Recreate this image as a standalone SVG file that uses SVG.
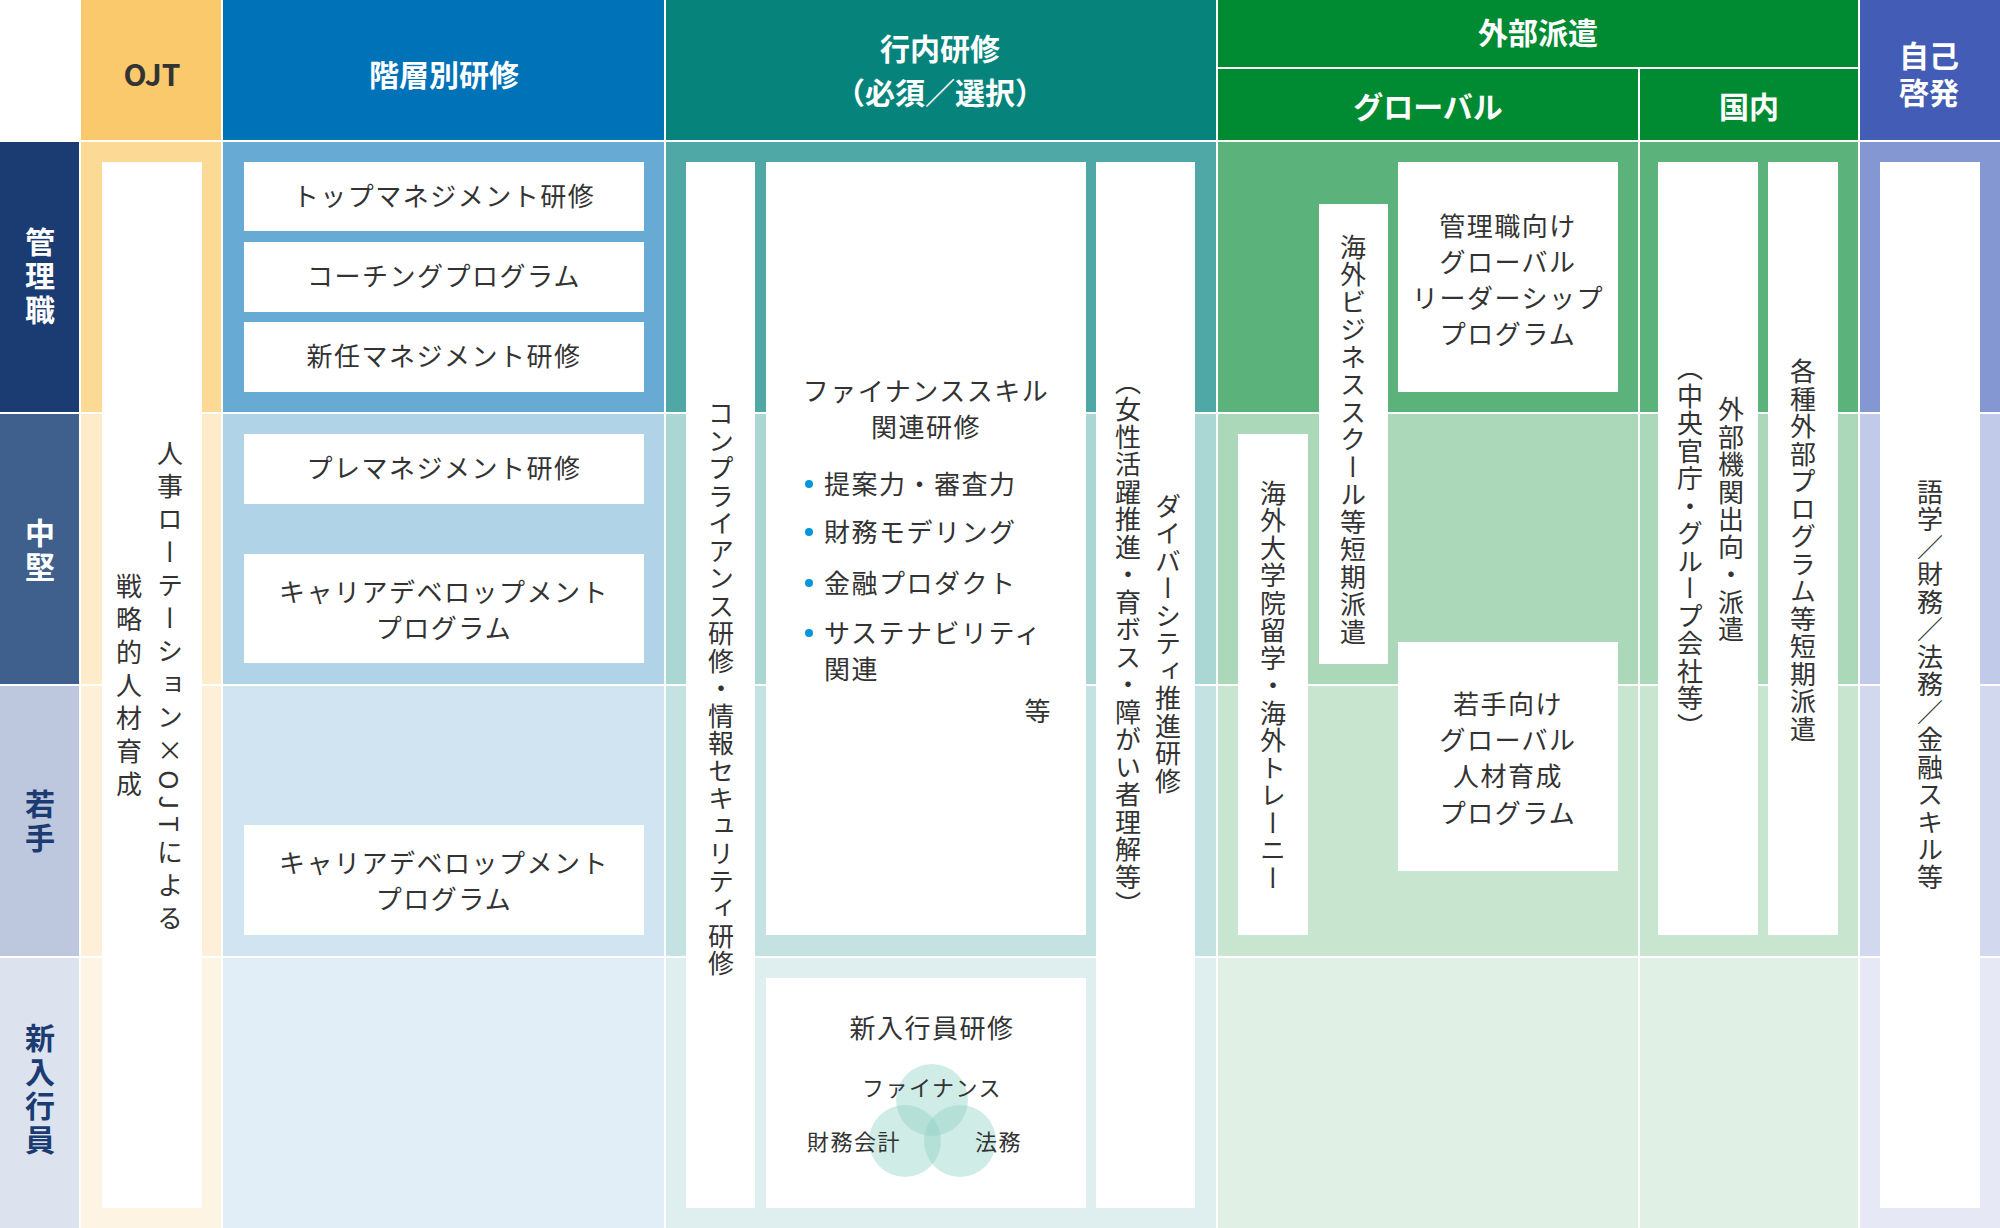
<svg xmlns="http://www.w3.org/2000/svg" width="2000" height="1228" viewBox="0 0 2000 1228">
<style>
text{font-family:"Noto Sans CJK JP","Noto Sans",sans-serif;}
.h{fill:#fff;font-weight:700;font-size:30px;text-anchor:middle;dominant-baseline:central;}
.b{fill:#333;font-size:26px;text-anchor:middle;letter-spacing:1.5px;}
.v{fill:#333;font-size:26px;writing-mode:vertical-rl;text-anchor:middle;letter-spacing:1.5px;}
.lv{font-weight:700;font-size:30px;writing-mode:vertical-rl;text-anchor:middle;letter-spacing:4px;}
</style>
<rect width="2000" height="1228" fill="#fff"/>
<g id="headers">
<rect x="81" y="0" width="140" height="140" fill="#FAC96C"/>
<rect x="223" y="0" width="441" height="140" fill="#0072B8"/>
<rect x="666" y="0" width="550" height="140" fill="#06847C"/>
<rect x="1218" y="0" width="640" height="67" fill="#008A32"/>
<rect x="1218" y="69" width="420" height="71" fill="#008A32"/>
<rect x="1640" y="69" width="218" height="71" fill="#008A32"/>
<rect x="1860" y="0" width="140" height="140" fill="#435CB5"/>
<text class="h" x="152" y="73" style="fill:#333">OJT</text>
<text class="h" x="444" y="73">階層別研修</text>
<text class="h" x="940" y="47">行内研修</text>
<text class="h" x="940" y="91">（必須／選択）</text>
<text class="h" x="1538" y="31">外部派遣</text>
<text class="h" x="1428" y="105">グローバル</text>
<text class="h" x="1749" y="105">国内</text>
<text class="h" x="1929" y="54">自己</text>
<text class="h" x="1929" y="91">啓発</text>
</g>
<g id="rows">
<rect x="0" y="142" width="79" height="270" fill="#1B3C72"/>
<rect x="0" y="414" width="79" height="270" fill="#3F5F8D"/>
<rect x="0" y="686" width="79" height="270" fill="#BDC7DD"/>
<rect x="0" y="958" width="79" height="270" fill="#DCE3EE"/>
<text class="lv" x="40" y="278" fill="#fff">管理職</text>
<text class="lv" x="40" y="552" fill="#fff">中堅</text>
<text class="lv" x="40" y="823" fill="#1B3C72">若手</text>
<text class="lv" x="40" y="1091" fill="#1B3C72">新入行員</text>
</g>
<g id="cells">
<rect x="81" y="142" width="140" height="270" fill="#FCD995"/>
<rect x="81" y="414" width="140" height="270" fill="#FDEBC9"/>
<rect x="81" y="686" width="140" height="270" fill="#FEF0D8"/>
<rect x="81" y="958" width="140" height="270" fill="#FEF4E4"/>
<rect x="223" y="142" width="441" height="270" fill="#67AAD4"/>
<rect x="223" y="414" width="441" height="270" fill="#B0D3E8"/>
<rect x="223" y="686" width="441" height="270" fill="#D0E4F1"/>
<rect x="223" y="958" width="441" height="270" fill="#E1EDF7"/>
<rect x="666" y="142" width="550" height="270" fill="#4FA8A5"/>
<rect x="666" y="414" width="550" height="270" fill="#AAD6D4"/>
<rect x="666" y="686" width="550" height="270" fill="#C4E2E1"/>
<rect x="666" y="958" width="550" height="270" fill="#DFEFEF"/>
<rect x="1218" y="142" width="420" height="270" fill="#5BB37B"/>
<rect x="1218" y="414" width="420" height="270" fill="#ABD8B8"/>
<rect x="1218" y="686" width="420" height="270" fill="#C7E5CF"/>
<rect x="1218" y="958" width="420" height="270" fill="#E1F0E4"/>
<rect x="1640" y="142" width="218" height="270" fill="#5BB37B"/>
<rect x="1640" y="414" width="218" height="270" fill="#ABD8B8"/>
<rect x="1640" y="686" width="218" height="270" fill="#C7E5CF"/>
<rect x="1640" y="958" width="218" height="270" fill="#E1F0E4"/>
<rect x="1860" y="142" width="140" height="270" fill="#8497D2"/>
<rect x="1860" y="414" width="140" height="270" fill="#C2CAEA"/>
<rect x="1860" y="686" width="140" height="270" fill="#D2D9EF"/>
<rect x="1860" y="958" width="140" height="270" fill="#E6E9F5"/>
</g>
<g id="ojt">
<rect x="102" y="162" width="100" height="1046" fill="#fff"/>
<text class="v" x="170" y="689" style="letter-spacing:7px">人事ローテーション×OJTによる</text>
<text class="v" x="129" y="689" style="letter-spacing:7px">戦略的人材育成</text>
</g>
<g id="kaiso">
<rect x="244" y="162" width="400" height="69" fill="#fff"/>
<text class="b" x="444" y="206">トップマネジメント研修</text>
<rect x="244" y="242" width="400" height="70" fill="#fff"/>
<text class="b" x="444" y="286">コーチングプログラム</text>
<rect x="244" y="322" width="400" height="70" fill="#fff"/>
<text class="b" x="444" y="366">新任マネジメント研修</text>
<rect x="244" y="434" width="400" height="70" fill="#fff"/>
<text class="b" x="444" y="478">プレマネジメント研修</text>
<rect x="244" y="554" width="400" height="109" fill="#fff"/>
<text class="b" x="444" y="602">キャリアデベロップメント</text>
<text class="b" x="444" y="638">プログラム</text>
<rect x="244" y="825" width="400" height="110" fill="#fff"/>
<text class="b" x="444" y="873">キャリアデベロップメント</text>
<text class="b" x="444" y="909">プログラム</text>
</g>
<g id="konai">
<rect x="686" y="162" width="69" height="1046" fill="#fff"/>
<text class="v" x="721" y="689">コンプライアンス研修・情報セキュリティ研修</text>
<rect x="766" y="162" width="320" height="773" fill="#fff"/>
<text class="b" x="926" y="401">ファイナンススキル</text>
<text class="b" x="926" y="437">関連研修</text>
<g fill="#0097D8"><circle cx="809" cy="484" r="4"/><circle cx="809" cy="532" r="4"/><circle cx="809" cy="583" r="4"/><circle cx="809" cy="633" r="4"/></g>
<text class="b" x="824" y="494" style="text-anchor:start">提案力・審査力</text>
<text class="b" x="824" y="542" style="text-anchor:start">財務モデリング</text>
<text class="b" x="824" y="593" style="text-anchor:start">金融プロダクト</text>
<text class="b" x="824" y="643" style="text-anchor:start">サステナビリティ</text>
<text class="b" x="824" y="679" style="text-anchor:start">関連</text>
<text class="b" x="1052" y="721" style="text-anchor:end">等</text>
<rect x="1096" y="162" width="99" height="1046" fill="#fff"/>
<text class="v" x="1168" y="644">ダイバーシティ推進研修</text>
<text class="v" x="1128" y="644">（女性活躍推進・育ボス・障がい者理解等）</text>
<rect x="766" y="978" width="320" height="230" fill="#fff"/>
<text class="b" x="932" y="1038">新入行員研修</text>
<g fill="#8ACFC3" fill-opacity="0.4"><circle cx="932" cy="1100" r="36"/><circle cx="905" cy="1141" r="36"/><circle cx="960" cy="1141" r="36"/></g>
<text class="b" x="932" y="1096" style="font-size:22px">ファイナンス</text>
<text class="b" x="807" y="1150" style="font-size:22px;text-anchor:start">財務会計</text>
<text class="b" x="975" y="1150" style="font-size:22px;text-anchor:start">法務</text>
</g>
<g id="global">
<rect x="1319" y="204" width="69" height="460" fill="#fff"/>
<text class="v" x="1353" y="440">海外ビジネススクール等短期派遣</text>
<rect x="1398" y="162" width="220" height="230" fill="#fff"/>
<text class="b" x="1508" y="236">管理職向け</text>
<text class="b" x="1508" y="272">グローバル</text>
<text class="b" x="1508" y="308">リーダーシップ</text>
<text class="b" x="1508" y="344">プログラム</text>
<rect x="1238" y="434" width="70" height="501" fill="#fff"/>
<text class="v" x="1273" y="686">海外大学院留学・海外トレーニー</text>
<rect x="1398" y="642" width="220" height="229" fill="#fff"/>
<text class="b" x="1508" y="714">若手向け</text>
<text class="b" x="1508" y="750">グローバル</text>
<text class="b" x="1508" y="786">人材育成</text>
<text class="b" x="1508" y="823">プログラム</text>
</g>
<g id="kokunai">
<rect x="1658" y="162" width="100" height="773" fill="#fff"/>
<text class="v" x="1731" y="520">外部機関出向・派遣</text>
<text class="v" x="1690" y="548">（中央官庁・グループ会社等）</text>
<rect x="1768" y="162" width="70" height="773" fill="#fff"/>
<text class="v" x="1803" y="551">各種外部プログラム等短期派遣</text>
</g>
<g id="jiko">
<rect x="1880" y="162" width="100" height="1046" fill="#fff"/>
<text class="v" x="1930" y="685">語学／財務／法務／金融スキル等</text>
</g>
<g id="connectors"/>
</svg>
